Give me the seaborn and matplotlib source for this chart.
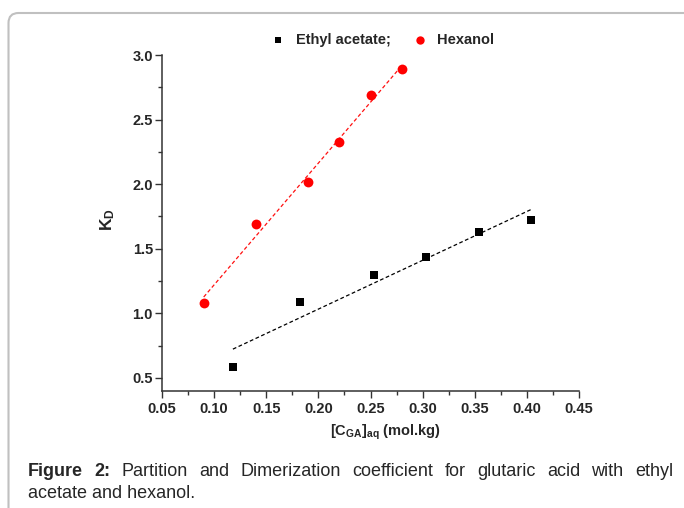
import matplotlib
matplotlib.use("Agg")
import matplotlib.pyplot as plt
import matplotlib.transforms as mtransforms
from matplotlib.patches import FancyBboxPatch
from matplotlib.ticker import MultipleLocator
import seaborn as sns
import pandas as pd

# ---- data ----
ethyl_x = [0.118, 0.182, 0.253, 0.303, 0.354, 0.404]
ethyl_kd = [0.58, 1.09, 1.30, 1.44, 1.63, 1.72]
hexanol_x = [0.090, 0.140, 0.190, 0.220, 0.250, 0.280]
hexanol_kd = [1.08, 1.69, 2.02, 2.33, 2.69, 2.89]
series_labels = ["Ethyl acetate;", "Hexanol"]
caption_line1 = [("Figure", "bold"), ("2:", "bold"), ("Partition", "normal"), ("and", "normal"),
                 ("Dimerization", "normal"), ("coefficient", "normal"), ("for", "normal"),
                 ("glutaric", "normal"), ("acid", "normal"), ("with", "normal"), ("ethyl", "normal")]
caption_line2 = "acetate and hexanol."

sns.set_style("ticks")
plt.rcParams['font.family'] = ['Liberation Sans', 'DejaVu Sans']
plt.rcParams['mathtext.fontset'] = 'custom'
plt.rcParams['mathtext.rm'] = 'Liberation Sans:bold'
plt.rcParams['mathtext.bf'] = 'Liberation Sans:bold'
plt.rcParams['mathtext.it'] = 'Liberation Sans:bold'

W, H = 684, 508
fig = plt.figure(figsize=(W / 100, H / 100), dpi=100)
fig.patch.set_facecolor("white")
ax = fig.add_axes([162 / W, 1 - 390.7 / H, (579 - 162) / W, (390.7 - 55.2) / H])

df_e = pd.DataFrame({"x": ethyl_x, "y": ethyl_kd})
df_h = pd.DataFrame({"x": hexanol_x, "y": hexanol_kd})

sns.regplot(data=df_e, x="x", y="y", scatter=False, ci=None, ax=ax,
            line_kws=dict(color="black", lw=0.9, dashes=(3, 2)))
sns.regplot(data=df_h, x="x", y="y", scatter=False, ci=None, ax=ax,
            line_kws=dict(color="#ff1010", lw=0.9, dashes=(3, 2)))
sns.scatterplot(data=df_e, x="x", y="y", marker="s", color="black", s=32,
                edgecolor="black", linewidth=0, ax=ax, label=series_labels[0], zorder=3)
sns.scatterplot(data=df_h, x="x", y="y", marker="o", color="#ff0000", s=50,
                edgecolor="#ff0000", linewidth=0, ax=ax, label=series_labels[1], zorder=3)

ax.set_xlim(0.05, 0.45)
ax.set_ylim(0.4, 3.0)
ax.xaxis.set_minor_locator(MultipleLocator(0.025))
ax.yaxis.set_minor_locator(MultipleLocator(0.25))
ax.set_yticks([0.5, 1.0, 1.5, 2.0, 2.5, 3.0])
ax.set_xticks([0.05, 0.10, 0.15, 0.20, 0.25, 0.30, 0.35, 0.40, 0.45])
ax.set_xticklabels([f"{v:.2f}" for v in ax.get_xticks()])
ax.set_yticklabels([f"{v:.1f}" for v in ax.get_yticks()])

for s in ["top", "right"]:
    ax.spines[s].set_visible(False)
for s in ["left", "bottom"]:
    ax.spines[s].set_color("#333333")
    ax.spines[s].set_linewidth(1.1)
ax.tick_params(which="major", direction="out", length=5, width=1.0, color="#333333",
               labelsize=10.5)
ax.tick_params(which="minor", direction="out", length=3, width=1.0, color="#333333")
ax.tick_params(axis="x", which="major", pad=3)
ax.tick_params(axis="y", which="major", pad=1.5)
for lab in ax.get_xticklabels() + ax.get_yticklabels():
    lab.set_fontweight("bold")

ax.set_xlabel(r"[C$_{\rm GA}$]$_{\rm aq}$ (mol.kg)", fontsize=10.5, fontweight="bold", va="center")
ax.xaxis.set_label_coords((385 - 162) / 417, (390.7 - 432) / 335.5)
ax.set_ylabel(r"K$_{\rm D}$", fontsize=12.5, fontweight="bold", va="center", ha="center")
ax.yaxis.set_label_coords((108 - 162) / 417, (390.7 - 220) / 335.5)

leg = ax.legend(loc="center", bbox_to_anchor=(382 / W, 1 - 40 / H), bbox_transform=fig.transFigure,
                ncol=2, frameon=False, handletextpad=0.6, columnspacing=1.4,
                prop={"weight": "bold", "size": 10.5}, markerscale=0.85, handlelength=1.2)

# frame around figure (rounded top-left corner)
frame = FancyBboxPatch((8.5, -60), 900, (H - 13) + 60, boxstyle="round,pad=0,rounding_size=10",
                       transform=mtransforms.IdentityTransform(), fill=False,
                       edgecolor="#c0c0c0", lw=1.5)
fig.patches.append(frame)

# caption, line 1 justified
fig.canvas.draw()
renderer = fig.canvas.get_renderer()
texts = []
for word, weight in caption_line1:
    t = fig.text(0, 1 - 471 / H, word, fontsize=13, fontweight=weight, va="center", ha="left")
    texts.append(t)
widths = [t.get_window_extent(renderer).width for t in texts]
left_px, right_px = 28, 673
gap = (right_px - left_px - sum(widths)) / (len(texts) - 1)
xpos = left_px
for t, w in zip(texts, widths):
    t.set_x(xpos / W)
    xpos += w + gap
fig.text(left_px / W, 1 - 493 / H, caption_line2, fontsize=13, va="center", ha="left")

fig.savefig("out.png", dpi=100, facecolor="white")
